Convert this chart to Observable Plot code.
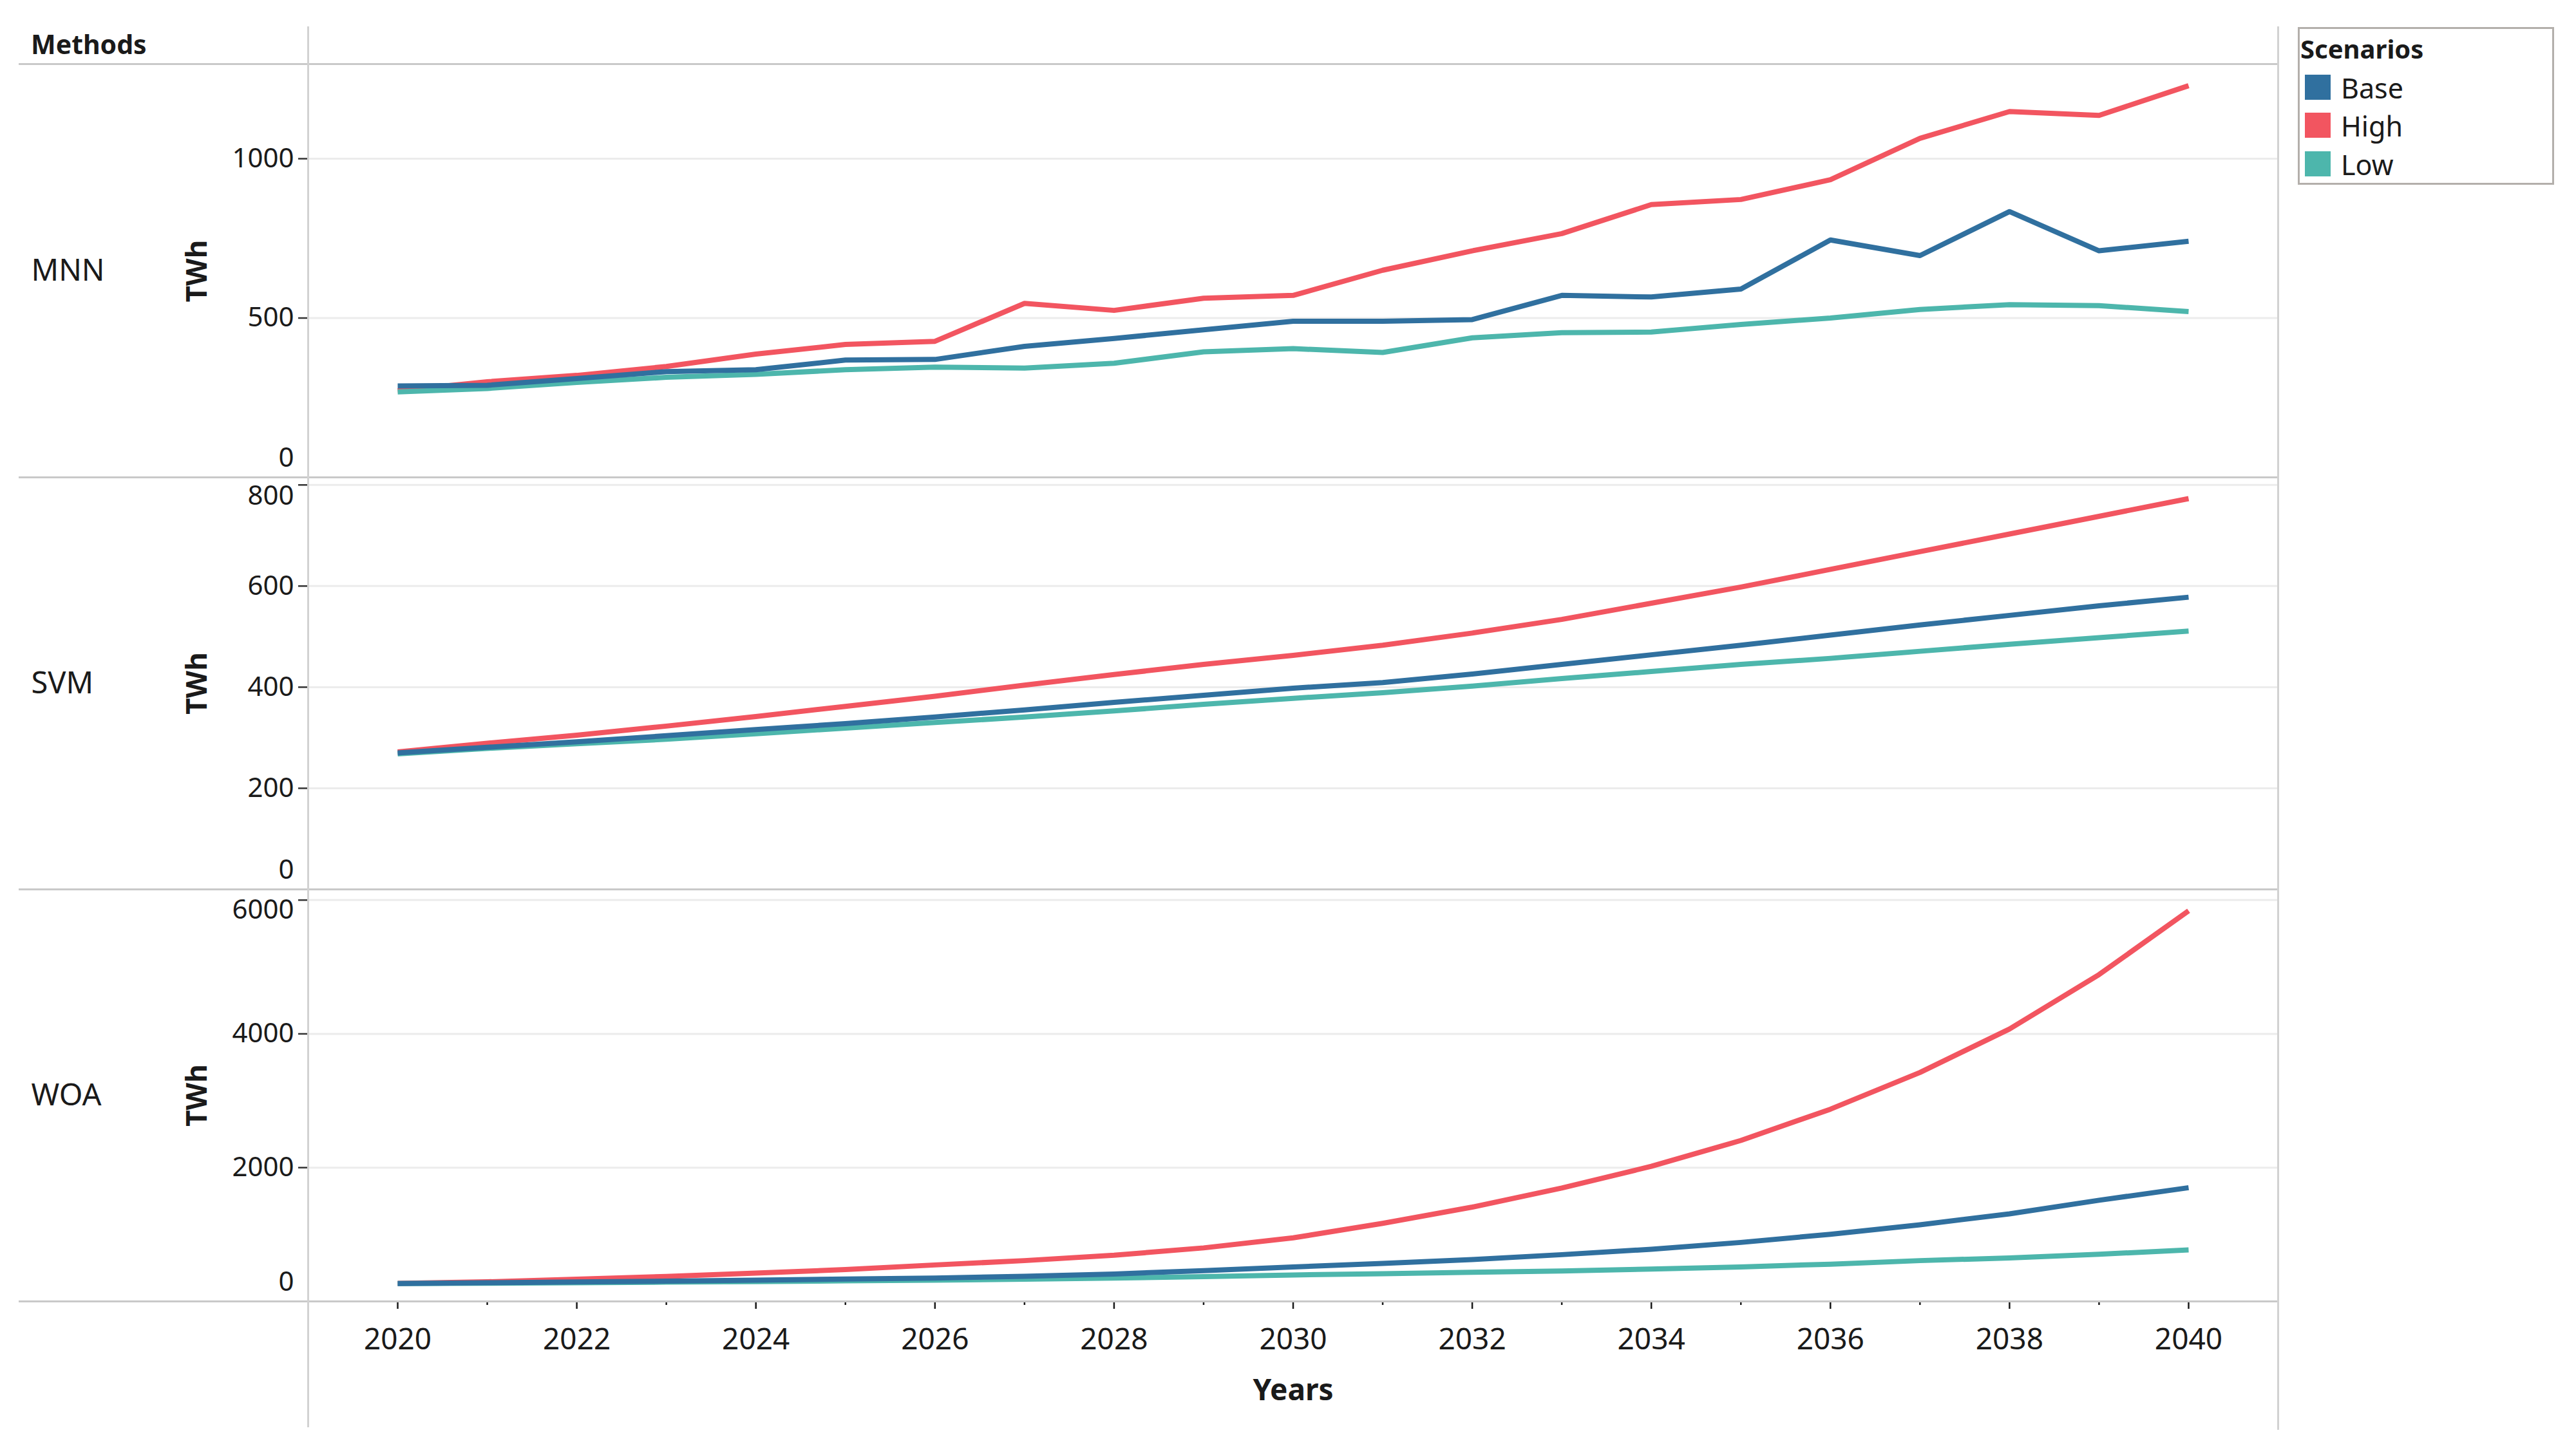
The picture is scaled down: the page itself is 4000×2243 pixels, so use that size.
<!DOCTYPE html>
<html>
<head>
<meta charset="utf-8">
<script src="https://cdn.jsdelivr.net/npm/d3@7"></script>
<script src="https://cdn.jsdelivr.net/npm/@observablehq/plot@0.6"></script>
<style>
  body { margin: 0; background: #fff; }
  #root { position: relative; width: 4000px; height: 2243px; background: #fff; overflow: hidden; font-family: "Noto Sans", sans-serif; color: #1a1a1a; }
  .abs { position: absolute; }
  .hline { position: absolute; height: 3px; background: #c9c9c9; }
  .vline { position: absolute; width: 3px; background: #d2d2d2; }
</style>
</head>
<body>
<div id="root"></div>
<script>
// ---------- data ----------
const years = [2020, 2021, 2022, 2023, 2024, 2025, 2026, 2027, 2028, 2029, 2030,
               2031, 2032, 2033, 2034, 2035, 2036, 2037, 2038, 2039, 2040];
const scenarios = ["Base", "High", "Low"];
const scenarioColors = ["#30709f", "#f25560", "#4db6ac"];
const methods = ["MNN", "SVM", "WOA"];

const mnnBase = [287, 289, 310, 332, 338, 368, 370, 411, 436, 463, 490, 490, 495, 571, 566, 591, 745, 696, 834, 711, 741];
const mnnHigh = [272, 300, 320, 348, 387, 417, 427, 546, 524, 562, 571, 650, 711, 765, 856, 872, 934, 1064, 1148, 1136, 1229];
const mnnLow  = [268, 279, 298, 314, 323, 338, 346, 343, 358, 394, 404, 392, 438, 454, 456, 480, 500, 527, 542, 539, 520];

const svmBase = [270, 281, 292, 304, 316, 328, 341, 355, 370, 384, 398, 409, 426, 445, 464, 483, 503, 523, 542, 561, 578];
const svmHigh = [272, 289, 305, 323, 342, 362, 382, 404, 425, 445, 463, 483, 507, 534, 566, 598, 633, 668, 703, 738, 773];
const svmLow  = [268, 279, 288, 297, 308, 319, 330, 341, 353, 366, 378, 389, 402, 417, 431, 445, 457, 471, 485, 498, 511];

const woaBase = [268, 278, 290, 303, 318, 335, 350, 375, 410, 460, 515, 569, 626, 699, 780, 882, 1004, 1146, 1309, 1512, 1700];
const woaHigh = [270, 293, 333, 374, 423, 476, 545, 610, 690, 800, 950, 1167, 1410, 1695, 2020, 2406, 2874, 3423, 4073, 4886, 5841];
const woaLow  = [266, 272, 280, 288, 297, 307, 318, 332, 348, 370, 395, 415, 435, 455, 484, 516, 557, 610, 650, 705, 770];

const yMaxMNN = 1295, yMaxSVM = 815, yMaxWOA = 6160;
const yTicksMNN = [0, 500, 1000];
const yTicksSVM = [0, 200, 400, 600, 800];
const yTicksWOA = [0, 2000, 4000, 6000];
const xTickLabels = [2020, 2022, 2024, 2026, 2028, 2030, 2032, 2034, 2036, 2038, 2040];
const xMinorTicks = [2019, 2021, 2023, 2025, 2027, 2029, 2031, 2033, 2035, 2037, 2039, 2041];
const xDomain = [2019, 2041];

const headerLabel = "Methods";
const legendTitle = "Scenarios";
const yLabel = "TWh";
const xLabel = "Years";

// ---------- layout ----------
const W = 3540, ML = 478, MR = 3;
const root = document.getElementById("root");
const drawOrder = ["High", "Low", "Base"]; // Base drawn on top

function rowsFor(series) {
  const out = [];
  drawOrder.forEach(s => {
    const vals = series[scenarios.indexOf(s)];
    years.forEach((y, i) => out.push({year: y, scenario: s, value: vals[i]}));
  });
  return out;
}

function panel(method, series, yMax, ticks, top, plotH, isLast, topDy) {
  const rows = rowsFor(series);
  const nonZero = ticks.filter(t => t !== 0);
  const topTick = ticks.filter(t => t !== 0 && (yMax - t) / yMax < 0.05);
  const midTicks = nonZero.filter(t => !topTick.includes(t));
  const mb = isLast ? 240 : 0;
  const marks = [
    Plot.gridY(nonZero, {stroke: "#ececec", strokeOpacity: 1, strokeWidth: 3}),
    Plot.axisY(nonZero, {label: null, tickSize: 15, tickFormat: () => "", strokeWidth: 2.5, stroke: "#333"}),
    Plot.axisY(midTicks, {label: null, tickSize: 0, tickPadding: 22, fontSize: 42, tickFormat: d => String(d)}),
    Plot.axisY(topTick, {label: null, tickSize: 0, tickPadding: 22, fontSize: 42, dy: topDy, tickFormat: d => String(d)}),
    Plot.axisY([0], {label: null, tickSize: 0, tickPadding: 22, fontSize: 42, dy: -30, tickFormat: d => String(d)}),
    ...drawOrder.map(s => Plot.line(rows.filter(r => r.scenario === s), {
      x: "year", y: "value", stroke: "scenario", strokeWidth: 8,
      strokeLinejoin: "round", strokeLinecap: "butt"
    })),
    Plot.text([method], {frameAnchor: "left", dx: -430, textAnchor: "start", fontSize: 47, fill: "#1a1a1a"}),
    Plot.text([yLabel], {frameAnchor: "left", dx: -172, rotate: -90, textAnchor: "middle", lineAnchor: "middle", fontSize: 44, fontWeight: "bold", fill: "#1a1a1a"})
  ];
  if (isLast) {
    marks.push(
      Plot.axisX(xTickLabels, {label: null, tickSize: 12, tickPadding: 30, fontSize: 46, strokeWidth: 2.5, tickFormat: d => String(d)}),
      Plot.axisX(xMinorTicks, {label: null, tickSize: 6, strokeWidth: 2.5, tickFormat: () => ""}),
      Plot.text([xLabel], {frameAnchor: "bottom", dy: 153, fontSize: 46, fontWeight: "bold", fill: "#1a1a1a"})
    );
  }
  const chart = Plot.plot({
    width: W, height: plotH + mb,
    marginLeft: ML, marginRight: MR, marginTop: 0, marginBottom: mb,
    x: {domain: xDomain, axis: null, label: null},
    y: {domain: [0, yMax], axis: null, label: null},
    color: {domain: scenarios, range: scenarioColors},
    style: {background: "transparent", color: "#1a1a1a", fontFamily: "Noto Sans", overflow: "visible"},
    marks
  });
  chart.style.position = "absolute";
  chart.style.left = "0px";
  chart.style.top = top + "px";
  root.appendChild(chart);
}

panel(methods[0], [mnnBase, mnnHigh, mnnLow], yMaxMNN, yTicksMNN, 100, 641, false, 0);
panel(methods[1], [svmBase, svmHigh, svmLow], yMaxSVM, yTicksSVM, 741, 640, false, 17);
panel(methods[2], [woaBase, woaHigh, woaLow], yMaxWOA, yTicksWOA, 1381, 640, true, 15);

// ---------- decorations ----------
function div(cls, css, text) {
  const d = document.createElement("div");
  if (cls) d.className = cls;
  Object.assign(d.style, css);
  if (text != null) d.textContent = text;
  root.appendChild(d);
  return d;
}
[98, 740, 1380, 2020].forEach(y => div("hline", {left: "29px", top: y + "px", width: "3509px"}));
div("vline", {left: "477px", top: "41px", height: "2176px"});
div("vline", {left: "3536px", top: "41px", height: "2180px"});

div("abs", {left: "48px", top: "48px", fontSize: "41px", lineHeight: "1", fontWeight: "bold"}, headerLabel);

// legend
div("abs", {left: "3568px", top: "42px", width: "392px", height: "239px", border: "3px solid #b3afab"});
div("abs", {left: "3572px", top: "56px", fontSize: "40px", lineHeight: "1", fontWeight: "bold"}, legendTitle);
const swTops = [116, 175, 235];
scenarios.forEach((s, i) => {
  div("abs", {left: "3579px", top: swTops[i] + "px", width: "40px", height: "39px", background: scenarioColors[i]});
  div("abs", {left: "3635px", top: (swTops[i] - 1) + "px", fontSize: "43px", lineHeight: "1"}, s);
});
</script>
</body>
</html>
